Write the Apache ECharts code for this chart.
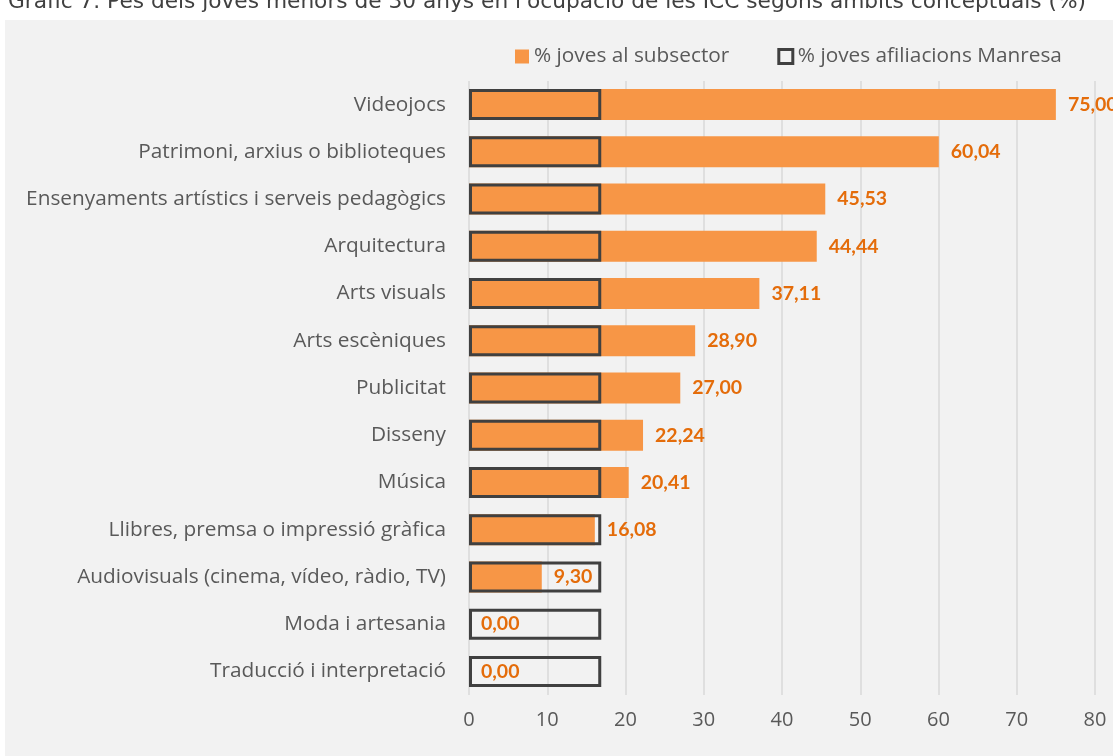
<!DOCTYPE html>
<html>
<head>
<meta charset="utf-8">
<script src="https://cdn.jsdelivr.net/npm/echarts@6/dist/echarts.min.js"></script>
<style>
html, body { margin: 0; padding: 0; background: #fff; }
#chart { width: 1113px; height: 756px; }
</style>
</head>
<body>
<div id="chart"></div>
<script>
const categories = ['Videojocs', 'Patrimoni, arxius o biblioteques', 'Ensenyaments artístics i serveis pedagògics', 'Arquitectura', 'Arts visuals', 'Arts escèniques', 'Publicitat', 'Disseny', 'Música', 'Llibres, premsa o impressió gràfica', 'Audiovisuals (cinema, vídeo, ràdio, TV)', 'Moda i artesania', 'Traducció i interpretació'];
const subsectorValues = [75.00, 60.04, 45.53, 44.44, 37.11, 28.90, 27.00, 22.24, 20.41, 16.08, 9.30, 0.00, 0.00];
const manresaValues = [16.9, 16.9, 16.9, 16.9, 16.9, 16.9, 16.9, 16.9, 16.9, 16.9, 16.9, 16.9, 16.9];
const xTicks = [0, 10, 20, 30, 40, 50, 60, 70, 80];

const textFont = '"Open Sans", sans-serif';
const numFont = 'Lato, sans-serif';

let chart = echarts.init(document.getElementById('chart'));
let option = {
	animation: false,
	backgroundColor: '#ffffff',
	graphic: [
		{
			type: 'rect',
			left: 5,
			top: 20,
			shape: { width: 1108, height: 736 },
			style: { fill: '#f2f2f2' },
			z: -10
		},
		{
			type: 'text',
			left: 8,
			top: -9,
			style: {
				text: 'Gràfic 7. Pes dels joves menors de 30 anys en l\'ocupació de les ICC segons àmbits conceptuals (%)',
				font: '21.7px "DejaVu Sans", Verdana, sans-serif',
				fill: '#404040'
			}
		}
	],
	legend: {
		left: 510,
		top: 41,
		itemWidth: 14,
		itemHeight: 14,
		itemGap: 48,
		textStyle: { fontFamily: textFont, fontSize: 20.8, color: '#595959' },
		data: [
			{ name: '% joves al subsector', icon: 'rect' },
			{
				name: '% joves afiliacions Manresa',
				icon: 'rect',
				itemStyle: { color: 'rgba(0,0,0,0)', borderColor: '#404040', borderWidth: 3 }
			}
		]
	},
	grid: {
		left: 469,
		right: 18,
		top: 81,
		bottom: 61,
		containLabel: false
	},
	xAxis: {
		type: 'value',
		min: 0,
		max: 80,
		interval: 10,
		axisLine: { show: false },
		axisTick: { show: false },
		axisLabel: {
			fontFamily: textFont,
			fontSize: 20,
			color: '#595959',
			margin: 15,
			formatter: (v) => xTicks.indexOf(v) >= 0 ? String(v) : ''
		},
		splitLine: { lineStyle: { color: '#d9d9d9', width: 1.5 } }
	},
	yAxis: {
		type: 'category',
		inverse: true,
		data: categories,
		axisLine: { show: false },
		axisTick: { show: false },
		axisLabel: {
			fontFamily: textFont,
			fontSize: 20.8,
			color: '#595959',
			margin: 23
		}
	},
	series: [
		{
			name: '% joves al subsector',
			type: 'bar',
			data: subsectorValues,
			barWidth: 31,
			itemStyle: { color: '#f79646' },
			label: {
				show: true,
				position: 'right',
				distance: 12,
				fontFamily: numFont,
				fontWeight: 'bold',
				fontSize: 19.5,
				color: '#e46c0a',
				formatter: (p) => p.value.toFixed(2).replace('.', ',')
			},
			z: 2
		},
		{
			name: '% joves afiliacions Manresa',
			type: 'bar',
			data: manresaValues,
			barWidth: 31,
			barGap: '-100%',
			itemStyle: { color: 'rgba(0,0,0,0)', borderColor: '#404040', borderWidth: 3 },
			z: 3
		}
	]
};
chart.setOption(option);
</script>
</body>
</html>
